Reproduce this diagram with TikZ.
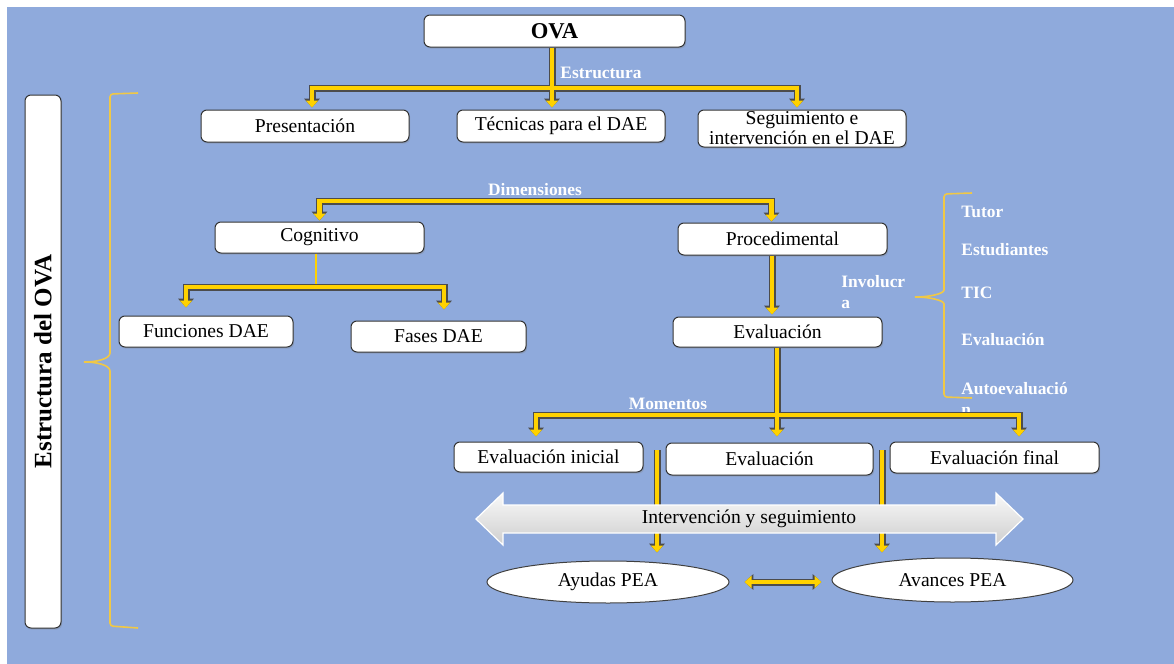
\documentclass[tikz,border=0pt]{standalone}
\usepackage{fontspec}
\setmainfont{Liberation Serif}
\usepackage{xcolor}
\usepackage{tikz}
\usetikzlibrary{arrows.meta,positioning,shapes.geometric,calc,shadows}
\definecolor{fondoazul}{RGB}{143,170,220}
\definecolor{amarillo}{RGB}{255,210,0}
\definecolor{llave}{RGB}{240,200,70}
\tikzset{
  % caja blanca redondeada
  caja/.style={
    draw=black!80,
    fill=white,
    line width=0.5pt,
    rounded corners=3pt,
    inner sep=0pt,
    align=center,
    drop shadow={shadow xshift=0.6pt, shadow yshift=-0.8pt, opacity=0.3},
    font=\fontsize{9.8}{10}\selectfont
  },
  % elipse blanca
  elipse/.style={
    ellipse,
    draw=black!75,
    fill=white,
    line width=0.5pt,
    inner sep=0pt,
    font=\fontsize{9.8}{10}\selectfont
  },
  % etiqueta blanca sobre el fondo
  etiq/.style={text=white, inner sep=0pt, align=left, font=\bfseries\fontsize{8.7}{10.5}\selectfont},
  % flecha amarilla: borde oscuro y relleno
  fborde/.style={draw=black!70, line width=3.5pt, >={Triangle[length=4.4pt,width=7.6pt]}},
  frelleno/.style={draw=amarillo, line width=2.4pt, >={Triangle[length=3.5pt,width=6pt]}},
  fpunta/.style={->},
  fdoble/.style={<->},
  % llave fina
  llavefina/.style={draw=llave, line width=0.8pt},
}

\begin{document}
\begin{tikzpicture}[x=0.5pt, y=-0.5pt]
  \useasboundingbox (0,0) rectangle (1174,664);
  % fondo
  \fill[fondoazul] (7,7) rectangle (1174,664);

  % caja lateral y llave
  \node[caja, rotate=90, minimum width=266.5pt, minimum height=18pt, font=\bfseries\fontsize{12.5}{14}\selectfont] (lateral) at (43,361.5) {Estructura del OVA};
  \draw[llavefina, rounded corners=1.5pt] (138,93) -- (110,94) -- (110,350) .. controls (110,359) and (96,362) .. (82,362) .. controls (96,362) and (110,365) .. (110,374) -- (110,626) -- (138,628);

  % nivel superior
  \node[caja, minimum width=130.5pt, minimum height=16pt, font=\bfseries\fontsize{11.3}{13}\selectfont] (ova) at (554.5,31) {OVA};
  \node[caja, minimum width=104pt, minimum height=16pt] (pres) at (305,126) {Presentación};
  \node[caja, minimum width=104pt, minimum height=16pt] (tec) at (561,126) {Técnicas para el DAE};
  \node[caja, minimum width=104pt, minimum height=18.5pt] (seg) at (802,128.5) {Seguimiento e\\intervención en el DAE};

  % dimensiones
  \node[caja, minimum width=104.5pt, minimum height=15.5pt] (cog) at (319.5,237.5) {Cognitivo};
  \node[caja, minimum width=104.5pt, minimum height=16pt] (proc) at (782.5,239) {Procedimental};
  \node[caja, minimum width=87pt, minimum height=15.5pt] (fun) at (206,331.5) {Funciones DAE};
  \node[caja, minimum width=87.5pt, minimum height=15.5pt] (fas) at (438.5,336.5) {Fases DAE};
  \node[caja, minimum width=104.5pt, minimum height=15pt] (eva) at (777.5,332) {Evaluación};

  % momentos
  \node[caja, minimum width=94.5pt, minimum height=15pt] (evi) at (548.5,457) {Evaluación inicial};
  \node[caja, minimum width=103.5pt, minimum height=16pt] (evm) at (769.5,459) {Evaluación};
  \node[caja, minimum width=104.5pt, minimum height=15.5pt] (evf) at (994.5,457.5) {Evaluación final};
  \node[elipse, minimum width=121pt, minimum height=21pt] (ayu) at (608,582) {Ayudas PEA};
  \node[elipse, minimum width=120.5pt, minimum height=22pt] (ava) at (952.5,580) {Avances PEA};

  % etiquetas
  \node[etiq] (lblest) at (601,73) {Estructura};
  \node[etiq] (lbldim) at (535,190) {Dimensiones};
  \node[etiq, anchor=west] (lblinv) at (841,292.5) {Involucr\\a};
  \node[etiq] (lblmom) at (668,404) {Momentos};
  \node[etiq, anchor=west] (tutor) at (961,212) {Tutor};
  \node[etiq, anchor=west] (estud) at (961,250) {Estudiantes};
  \node[etiq, anchor=west] (tic) at (961,293) {TIC};
  \node[etiq, anchor=west] (evalr) at (961,340) {Evaluación};
  \node[etiq, anchor=west] (autoev) at (961,399) {Autoevaluació\\n};
  \draw[llavefina, rounded corners=1.5pt] (972,193) -- (944,194) -- (944,287) .. controls (944,294) and (928,297) .. (913,297) .. controls (928,297) and (944,300) .. (944,307) -- (944,397) -- (972,398);

  % conectores
  \coordinate (ovabar) at (552,88);
  \coordinate (dimbar) at (529,201);
  \coordinate (cogbar) at (316,287);
  \coordinate (mombar) at (777,415);
  \coordinate (ayutop) at (657,450);
  \coordinate (avatop) at (882,450);
  \draw[draw=amarillo, line width=1pt] (cog.south -| cogbar) -- (cogbar);
  \foreach \capa in {fborde,frelleno}{
    \draw[\capa, fpunta, shorten >=1pt] (ova.south -| ovabar) -- (tec.north -| ovabar);
    \draw[\capa, fpunta, shorten >=1pt] (ovabar) -| ([xshift=3.5pt]pres.north);
    \draw[\capa, fpunta, shorten >=1pt] (ovabar) -| ([xshift=-2.5pt]seg.north);
    \draw[\capa, fpunta, shorten >=0.5pt] (dimbar) -| (cog.north);
    \draw[\capa, fpunta, shorten >=0.5pt] (dimbar) -| ([xshift=-5.5pt]proc.north);
    \draw[\capa, fpunta, shorten >=4pt] (cogbar) -| ([xshift=-10pt]fun.north);
    \draw[\capa, fpunta, shorten >=5.5pt] (cogbar) -| ([xshift=2.75pt]fas.north);
    \draw[\capa, fpunta, shorten >=1pt] ([xshift=-5.25pt]proc.south) -- ([xshift=-5.25pt]proc.south |- eva.north);
    \draw[\capa, fpunta, shorten >=3pt] (eva.south -| mombar) -- (mombar |- evm.north);
    \draw[\capa, fpunta, shorten >=2.5pt] (mombar) -| ([xshift=-6.25pt]evi.north);
    \draw[\capa, fpunta, shorten >=2.5pt] (mombar) -| ([xshift=12.25pt]evf.north);
    \draw[\capa, fpunta, shorten >=4pt] (ayutop) -- (ayutop |- ayu.north);
    \draw[\capa, fpunta, shorten >=2.5pt] (avatop) -- (avatop |- ava.north);
    \draw[\capa, fdoble, shorten <=7.5pt, shorten >=5pt] (ayu.east) -- (ayu.east -| ava.west);
  }

  % flecha gris doble
  \draw[top color=gray!5, bottom color=gray!38, draw=white, line width=0.6pt]
    (476,519) -- (503,493) -- (503,505) -- (996,505) -- (996,493) -- (1023,519)
    -- (996,545) -- (996,533) -- (503,533) -- (503,545) -- cycle;
  \node[inner sep=0pt, font=\fontsize{9.8}{10}\selectfont] (intv) at (749,519) {Intervención y seguimiento};
\end{tikzpicture}
\end{document}
